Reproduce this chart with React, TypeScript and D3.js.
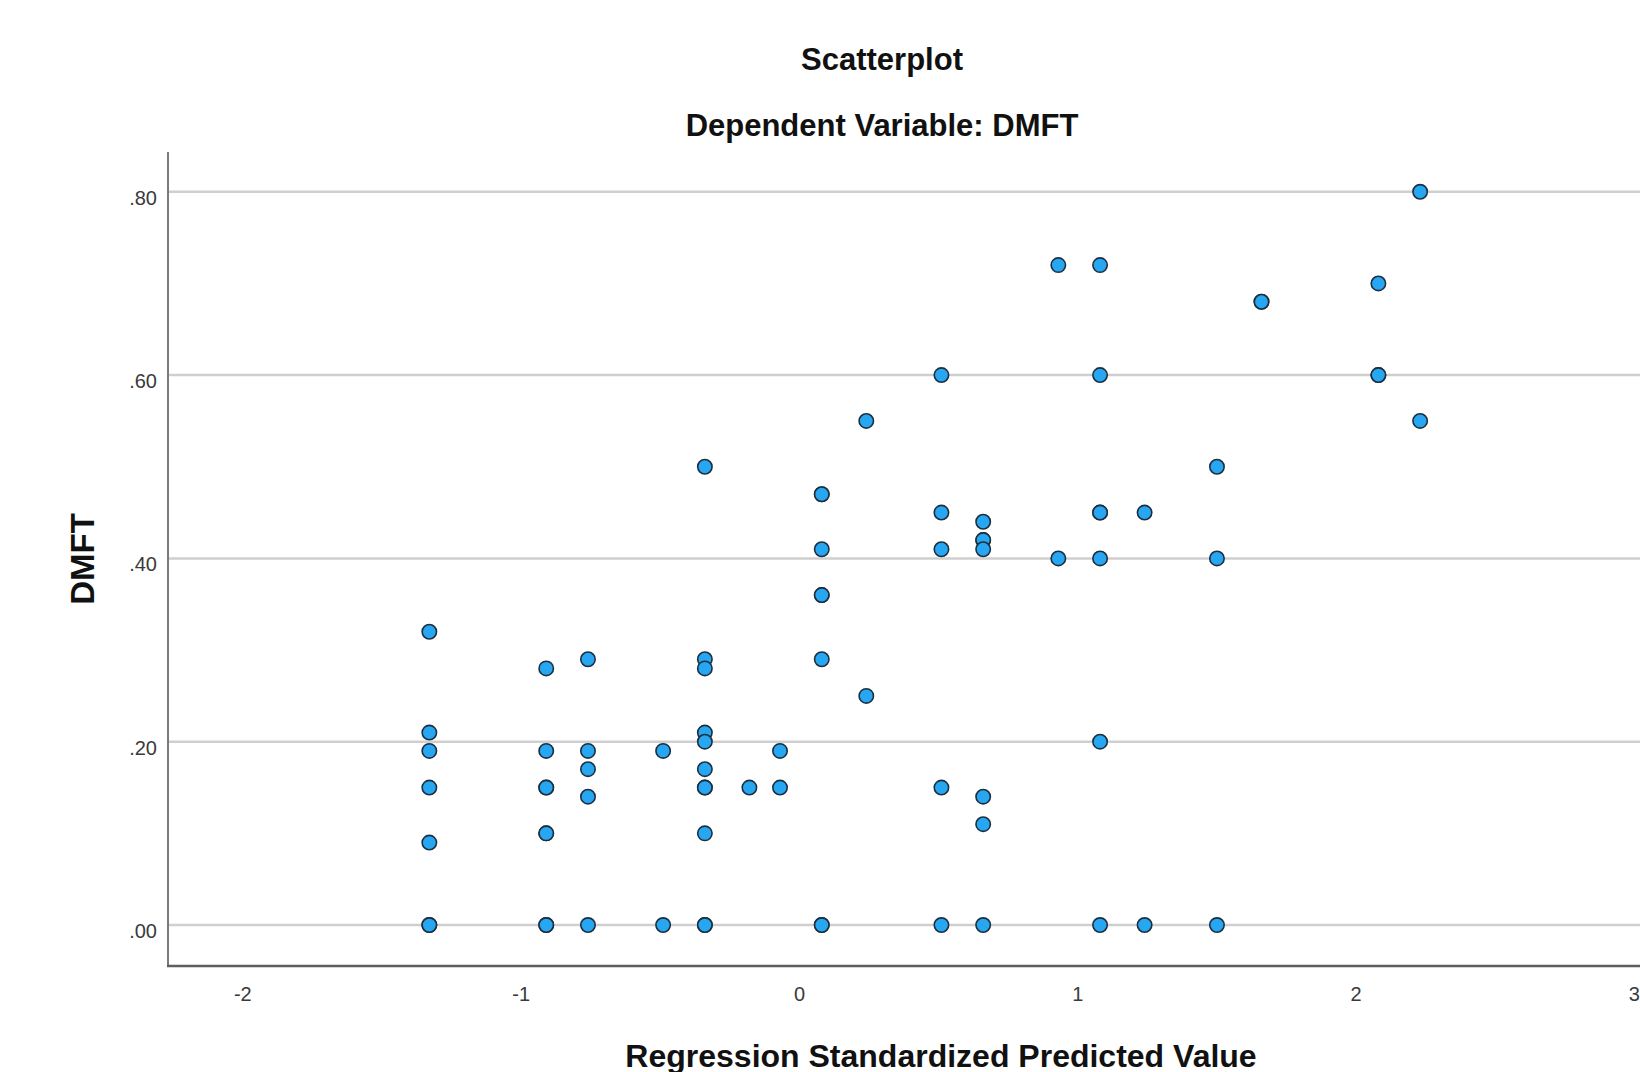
import React, {useEffect, useRef} from "react";
import * as d3 from "d3";

// standardized predicted value (x) and DMFT (y)
const predicted = [
    -1.33, -1.33, -1.33, -1.33, -1.33, -1.33, -1.33,
    -0.91, -0.91, -0.91, -0.91, -0.91, -0.91, -0.91, -0.91,
    -0.76, -0.76, -0.76, -0.76, -0.76,
    -0.49, -0.49,
    -0.34, -0.34, -0.34, -0.34, -0.34, -0.34, -0.34, -0.34, -0.34, -0.34, -0.34,
    -0.18,
    -0.07, -0.07,
    0.08, 0.08, 0.08, 0.08, 0.08, 0.08, 0.08, 0.08,
    0.24, 0.24,
    0.51, 0.51, 0.51, 0.51, 0.51,
    0.66, 0.66, 0.66, 0.66, 0.66, 0.66, 0.66,
    0.93, 0.93,
    1.08, 1.08, 1.08, 1.08, 1.08, 1.08, 1.08,
    1.24, 1.24,
    1.50, 1.50, 1.50,
    1.66, 1.66,
    2.08, 2.08, 2.08,
    2.23, 2.23
];

const dmft = [
    0.32, 0.21, 0.19, 0.15, 0.09, 0.00, 0.00,
    0.28, 0.19, 0.15, 0.15, 0.10, 0.10, 0.00, 0.00,
    0.29, 0.19, 0.17, 0.14, 0.00,
    0.19, 0.00,
    0.50, 0.29, 0.28, 0.21, 0.20, 0.17, 0.15, 0.15, 0.10, 0.00, 0.00,
    0.15,
    0.19, 0.15,
    0.47, 0.47, 0.41, 0.36, 0.36, 0.29, 0.00, 0.00,
    0.55, 0.25,
    0.60, 0.45, 0.41, 0.15, 0.00,
    0.44, 0.42, 0.42, 0.41, 0.14, 0.11, 0.00,
    0.72, 0.40,
    0.72, 0.60, 0.45, 0.45, 0.40, 0.20, 0.00,
    0.45, 0.00,
    0.50, 0.40, 0.00,
    0.68, 0.68,
    0.70, 0.60, 0.60,
    0.80, 0.55
];

const xTicks = [-2, -1, 0, 1, 2, 3];
const yTicks = [0, 0.2, 0.4, 0.6, 0.8];

const title = "Scatterplot";
const subtitle = "Dependent Variable: DMFT";
const xLabel = "Regression Standardized Predicted Value";
const yLabel = "DMFT";

const width = 1640;
const height = 1072;
const margin = {left: 168, right: 0, top: 152, bottom: 106};
const font = "'Liberation Sans', Arial, sans-serif";

const App = () => {
    const ref = useRef();

    useEffect(() => {
        const svg = d3.select(ref.current);
        svg.selectAll("*").remove();

        const x = d3.scaleLinear().domain([-2.269, 3.02]).range([margin.left, width - margin.right]);
        const y = d3.scaleLinear().domain([-0.0447, 0.8434]).range([height - margin.bottom, margin.top]);

        // grid lines
        svg.append("g").selectAll("line").data(yTicks).join("line")
            .attr("x1", margin.left).attr("x2", width)
            .attr("y1", d => y(d)).attr("y2", d => y(d))
            .attr("stroke", "#cfcfcf")
            .attr("stroke-width", 2.5);

        // axes
        svg.append("line")
            .attr("x1", margin.left).attr("x2", margin.left)
            .attr("y1", margin.top).attr("y2", height - margin.bottom)
            .attr("stroke", "#7a7a7a").attr("stroke-width", 2);
        svg.append("line")
            .attr("x1", margin.left - 1).attr("x2", width)
            .attr("y1", height - margin.bottom).attr("y2", height - margin.bottom)
            .attr("stroke", "#5e5e5e").attr("stroke-width", 2.5);

        // tick labels
        svg.append("g").selectAll("text").data(yTicks).join("text")
            .attr("x", margin.left - 11)
            .attr("y", d => y(d) + 13)
            .attr("text-anchor", "end")
            .attr("font-family", font)
            .attr("font-size", 20)
            .attr("fill", "#3a3a3a")
            .text(d => d3.format(".2f")(d).replace(/^0/, ""));

        svg.append("g").selectAll("text").data(xTicks).join("text")
            .attr("x", d => x(d))
            .attr("y", 1001)
            .attr("text-anchor", "middle")
            .attr("font-family", font)
            .attr("font-size", 20)
            .attr("fill", "#3a3a3a")
            .text(d => d);

        // points
        const pts = predicted.map((p, i) => ({p, v: dmft[i]}));
        svg.append("g").selectAll("circle").data(pts).join("circle")
            .attr("cx", d => x(d.p))
            .attr("cy", d => y(d.v))
            .attr("r", 7.2)
            .attr("fill", "#27a6f2")
            .attr("stroke", "#1d2f3f")
            .attr("stroke-width", 1.6);

        // titles
        const t = svg.append("g")
            .attr("font-family", font)
            .attr("font-weight", "bold")
            .attr("fill", "#111")
            .attr("text-anchor", "middle");
        t.append("text").attr("x", 882).attr("y", 70).attr("font-size", 31).text(title);
        t.append("text").attr("x", 882).attr("y", 136).attr("font-size", 31).text(subtitle);
        t.append("text").attr("x", 941).attr("y", 1067).attr("font-size", 32).text(xLabel);
        t.append("text")
            .attr("transform", `translate(94,${(margin.top + height - margin.bottom) / 2}) rotate(-90)`)
            .attr("font-size", 33)
            .text(yLabel);
    }, []);

    return (
        <svg
            ref={ref}
            width={width}
            height={height}
            style={{position: "absolute", left: 0, top: 0, background: "#fff"}}
        />
    );
};

export default App;
